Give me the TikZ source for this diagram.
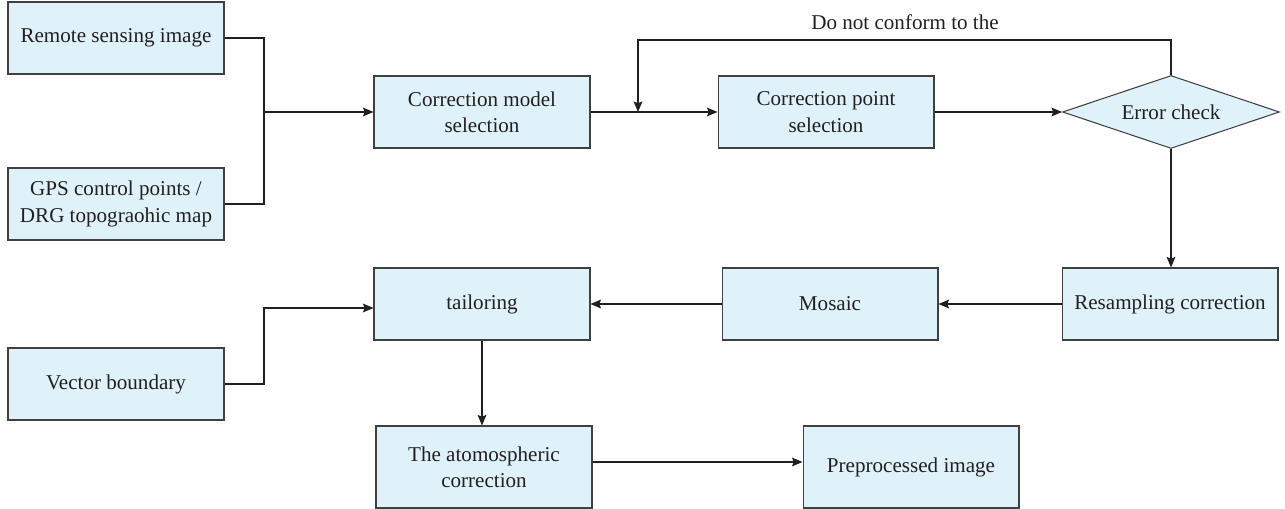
\documentclass[tikz,border=0pt]{standalone}
\usepackage{fontspec}
\setmainfont{Liberation Serif}
\usetikzlibrary{arrows.meta,shapes.geometric}
\definecolor{boxfill}{HTML}{DFF2FA}
\definecolor{boxline}{HTML}{404040}
\definecolor{ink}{HTML}{231F20}
\begin{document}
\begin{tikzpicture}[x=0.02cm,y=-0.02cm,
    font=\fontsize{12}{15}\selectfont, text=ink,
    stepbox/.style={draw=boxline, fill=boxfill, line width=0.6pt,
        minimum width=4.32cm, minimum height=1.44cm, align=center, inner sep=2pt},
    tallbox/.style={stepbox, minimum height=1.64cm},
    checkbox/.style={diamond, aspect=3, draw=boxline, fill=boxfill, line width=0.6pt,
        minimum width=4.34cm, minimum height=1.46cm, inner sep=0pt},
    flow/.style={draw=ink, line width=0.6pt, -{Stealth[length=6pt,width=5pt,inset=1pt]}},
    link/.style={draw=ink, line width=0.6pt}]
    \useasboundingbox (0,0) rectangle (1285,509);
    % input boxes
    \node[stepbox] (rsi) at (116,38) {Remote sensing image};
    \node[stepbox] (gps) at (116,204) {GPS control points /\\DRG topograohic map};
    \node[stepbox] (vec) at (116,384) {Vector boundary};
    % main chain
    \node[stepbox] (cms) at (482,112) {Correction model\\selection};
    \node[stepbox] (cps) at (826,112) {Correction point\\selection};
    \node[checkbox] (err) at (1171,112) {Error check};
    \node[stepbox] (res) at (1170,304) {Resampling correction};
    \node[stepbox] (mos) at (830,304) {Mosaic};
    \node[stepbox] (tai) at (482,304) {tailoring};
    \node[tallbox] (atm) at (484,467) {The atomospheric\\correction};
    \node[tallbox] (pre) at (911,467) {Preprocessed image};
    \node (lbl) at (905,22) {Do not conform to the};
    % joins
    \coordinate (join) at (264,112);
    \coordinate (back) at (638,112);
    \coordinate (turn) at (1171,40);
    % connectors
    \draw[link] (rsi.east) -| (join) |- (gps.east);
    \draw[flow] (join) -- (cms.west);
    \draw[flow] (cms.east) -- (cps.west);
    \draw[flow] (cps.east) -- (err.west);
    \draw[flow] (err.north) -- (turn) -| (back);
    \draw[flow] (err.south) -- (res.north -| err.south);
    \draw[flow] (res.west) -- (mos.east);
    \draw[flow] (mos.west) -- (tai.east);
    \draw[flow] (vec.east) -- (264,384) |- ([yshift=-0.08cm]tai.west);
    \draw[flow] (tai.south) -- (tai.south |- atm.north);
    \draw[flow] ([yshift=0.1cm]atm.east) -- ([yshift=0.1cm]pre.west);
\end{tikzpicture}
\end{document}
